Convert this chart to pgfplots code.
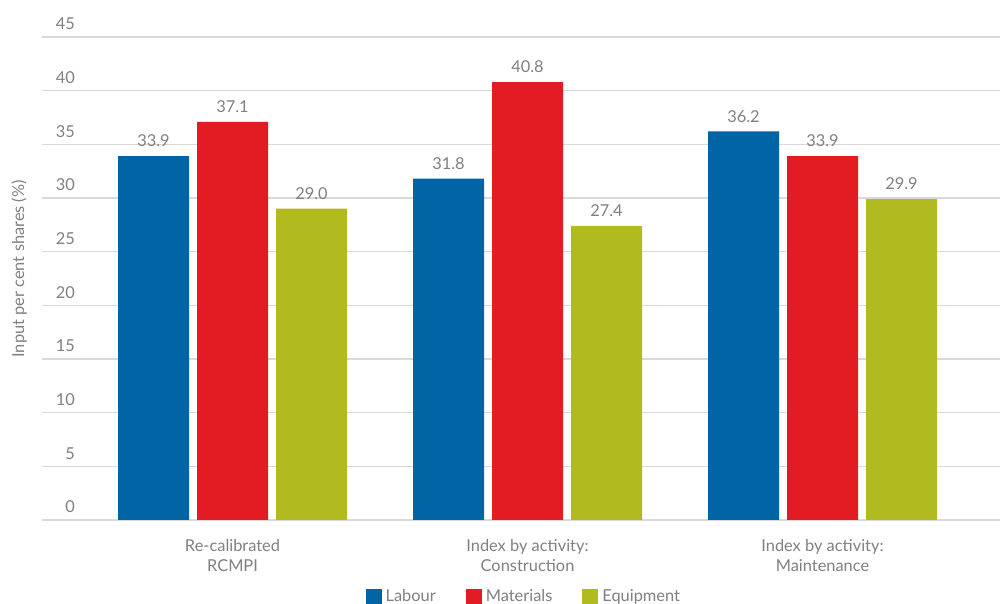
\documentclass[border=0pt]{standalone}
\usepackage{fontspec}
\setmainfont{Lato}
\usepackage{pgfplots}
\pgfplotsset{compat=1.18}
\definecolor{cblue}{RGB}{0,100,165}
\definecolor{cred}{RGB}{227,28,35}
\definecolor{cgreen}{RGB}{177,186,30}
\definecolor{gridgray}{RGB}{217,217,217}
\definecolor{txtgray}{RGB}{128,128,128}
\begin{document}
\begin{tikzpicture}
\useasboundingbox (0,0) rectangle (500pt,302pt);
\begin{axis}[
 at={(21pt,42pt)}, anchor=south west,
 scale only axis, width=479pt, height=241.5pt,
 ymin=0, ymax=45, ytick={0,5,...,45},
 xmin=-0.6458, xmax=2.6017,
 ybar=4pt, bar width=35.5pt,
 xtick={0,1,2},
 xticklabels={{Re-calibrated\\RCMPI},{Index by activity:\\Construction},{Index by activity:\\Maintenance}},
 xticklabel style={align=center, font=\fontsize{8.2}{10}\selectfont, text=txtgray, yshift=-2pt},
 yticklabel style={anchor=south east, xshift=20pt, yshift=0pt, font=\fontsize{8.2}{10}\selectfont, text=txtgray},
 /pgf/number format/assume math mode=true,
 axis line style={draw=none},
 xtick style={draw=none}, ytick style={draw=none},
 extra x ticks={-0.5,0.5,1.5,2.5},
 extra x tick labels={},
 extra x tick style={grid=none, major tick length=5.5pt, tick align=outside, tick style={draw=gridgray, line width=0.8pt}},
 ymajorgrids, grid style={draw=gridgray, line width=0.8pt},
 ylabel={Input per cent shares (\%)},
 every axis y label/.style={at={([xshift=-4pt]axis description cs:0,0.52)}, rotate=90, anchor=south, font=\fontsize{8.2}{10}\selectfont, text=txtgray},
 nodes near coords={\pgfmathprintnumber[fixed, fixed zerofill, precision=1]{\pgfplotspointmeta}},
 every node near coord/.append style={font=\fontsize{8.2}{10}\selectfont, text=txtgray, yshift=1pt},
 legend style={at={(rel axis cs:0.504,-0.159)}, anchor=center, draw=none, legend columns=3, font=\fontsize{8.2}{10}\selectfont, text=txtgray, /tikz/every even column/.append style={column sep=13pt}},
 legend image code/.code={\fill[#1] (0pt,-4pt) rectangle (8pt,4pt);},
]
\addplot[fill=cblue, draw=none] coordinates {(0,33.9) (1,31.8) (2,36.2)};
\addplot[fill=cred, draw=none] coordinates {(0,37.1) (1,40.8) (2,33.9)};
\addplot[fill=cgreen, draw=none] coordinates {(0,29.0) (1,27.4) (2,29.9)};
\legend{Labour, Materials, Equipment}
\end{axis}
\end{tikzpicture}
\end{document}
